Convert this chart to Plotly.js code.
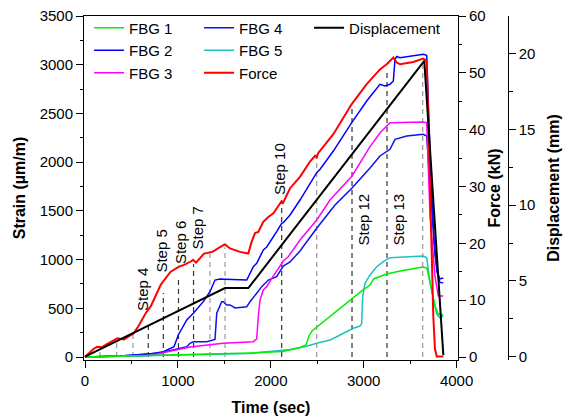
<!DOCTYPE html>
<html>
<head>
<meta charset="utf-8">
<script src="https://cdn.plot.ly/plotly-3.0.1.min.js"></script>
<style>html,body{margin:0;padding:0;background:#fff;}#chart{width:565px;height:416px;}</style>
</head>
<body>
<div id="chart"></div>
<script>
// ---- data (time in s, strain in µm/m, force in kN, displacement in mm) ----
const fbg1Time = [0, 700, 1238, 1776, 2131, 2314, 2379, 2411, 2443, 2497, 2852, 2992, 3068, 3105, 3247, 3391, 3638, 3681, 3714, 3767, 3803, 3857];
const fbg1 = [0, 15, 31, 41, 56, 98, 123, 216, 267, 308, 585, 688, 739, 801, 852, 883, 924, 913, 760, 523, 441, 431];

const fbg2Time = [0, 377, 700, 843, 958, 1004, 1095, 1166, 1273, 1345, 1399, 1453, 1507, 1741, 1812, 1848, 1919, 1956, 2063, 2117, 2137, 2207, 2314, 2422, 2494, 2530, 2673, 2871, 3032, 3175, 3229, 3283, 3319, 3337, 3355, 3391, 3534, 3641, 3678, 3695, 3724, 3757, 3789, 3821, 3857];
const fbg2 = [0, 10, 31, 54, 106, 226, 380, 449, 568, 670, 790, 801, 798, 790, 927, 962, 1098, 1129, 1286, 1372, 1381, 1458, 1611, 1786, 1892, 1927, 2114, 2405, 2628, 2799, 2782, 2799, 2833, 3056, 3084, 3072, 3089, 3107, 3097, 2638, 1817, 1201, 872, 801, 811];

const fbg3Time = [0, 700, 1130, 1489, 1812, 1848, 1865, 1884, 1919, 1956, 2010, 2117, 2134, 2188, 2314, 2494, 2637, 2874, 3068, 3175, 3247, 3283, 3641, 3678, 3714, 3767, 3803, 3857];
const fbg3 = [0, 15, 103, 141, 157, 185, 414, 585, 688, 722, 808, 962, 985, 1029, 1201, 1406, 1611, 1858, 2159, 2299, 2371, 2405, 2412, 2405, 1447, 831, 626, 626];

const fbg4Time = [0, 377, 807, 1023, 1095, 1130, 1166, 1310, 1399, 1418, 1453, 1471, 1489, 1525, 1561, 1615, 1741, 1776, 1848, 1902, 1973, 2063, 2134, 2207, 2314, 2494, 2691, 2874, 3068, 3175, 3283, 3337, 3463, 3641, 3678, 3703, 3735, 3767, 3800, 3821, 3857];
const fbg4 = [0, 10, 41, 89, 106, 141, 157, 157, 180, 449, 534, 568, 568, 534, 534, 503, 516, 568, 654, 722, 790, 824, 934, 975, 1088, 1321, 1560, 1735, 1940, 2063, 2132, 2234, 2268, 2286, 2268, 1919, 1406, 1047, 831, 765, 763];

const fbg5Time = [0, 1776, 2207, 2368, 2494, 2637, 2709, 2817, 2888, 2960, 2978, 2989, 3014, 3068, 3140, 3211, 3283, 3641, 3678, 3714, 3767, 3786, 3821, 3857];
const fbg5 = [0, 36, 77, 106, 141, 174, 208, 260, 295, 318, 346, 619, 756, 842, 927, 978, 1019, 1037, 1019, 763, 523, 438, 403, 421];

const forceTime = [0, 97, 132, 183, 226, 312, 348, 420, 492, 527, 581, 653, 707, 761, 815, 850, 922, 1012, 1066, 1138, 1163, 1195, 1227, 1281, 1370, 1432, 1489, 1507, 1561, 1668, 1758, 1794, 1830, 1865, 1919, 1970, 2027, 2099, 2115, 2131, 2153, 2207, 2314, 2422, 2476, 2494, 2511, 2673, 2871, 3032, 3175, 3247, 3319, 3355, 3391, 3534, 3641, 3678, 3695, 3714, 3749, 3767, 3786, 3857];
const force = [0, 1.5, 1.8, 1.7, 2.2, 3.0, 3.3, 3.1, 3.9, 4.2, 5.6, 7.7, 8.9, 10.9, 12.7, 13.5, 15.0, 15.9, 16.2, 16.8, 17.1, 16.6, 17.2, 18.2, 18.5, 19.2, 19.7, 19.8, 19.1, 18.5, 18.2, 20.3, 21.8, 22.0, 23.8, 24.6, 25.3, 27.0, 27.4, 27.1, 27.8, 29.7, 31.7, 34.4, 35.4, 35.1, 35.9, 39.2, 44.5, 48.0, 50.6, 51.5, 52.7, 51.8, 51.5, 51.9, 52.5, 52.1, 42.4, 30.7, 7.2, 1.4, 0.1, 0.1];

const dispTime = [0, 1507, 1758, 3652, 3857];
const displacement = [0, 4.53, 4.53, 19.53, 0.1];

const stepNumbers = [1, 2, 3, 4, 5, 6, 7, 8, 9, 10, 11, 12, 13, 14];
const stepTimes = [161, 341, 516, 681, 843, 1006, 1168, 1345, 1507, 2117, 2494, 2874, 3251, 3635];
const stepTops = [72, 144, 246, 362, 657, 824, 955, 1064, 1132, 1611, 2097, 2566, 2915, 2997];
const labeledSteps = [4, 5, 6, 7, 10, 12, 13];

// ---- styling ----
const FONT = 'Liberation Sans, Arial, sans-serif';
const tickFont = {family: FONT, size: 15, color: '#000'};
const titleFont = {family: FONT, size: 16, color: '#000', weight: 'bold'};

function stepTrace(labeled) {
  const xs = [], ys = [];
  stepNumbers.forEach((n, i) => {
    if (labeledSteps.includes(n) === labeled) {
      xs.push(stepTimes[i], stepTimes[i], null);
      ys.push(0, stepTops[i], null);
    }
  });
  return {x: xs, y: ys, type: 'scatter', mode: 'lines', showlegend: false, hoverinfo: 'skip',
          line: {color: labeled ? '#333333' : '#999999', width: 1.2, dash: '5px,4px'}};
}

const traces = [
  stepTrace(false),
  stepTrace(true),
  {x: fbg2Time, y: fbg2, name: 'FBG 2', type: 'scatter', mode: 'lines', line: {color: '#0000ff', width: 1.5}, legend: 'legend', legendrank: 2},
  {x: fbg4Time, y: fbg4, name: 'FBG 4', type: 'scatter', mode: 'lines', line: {color: '#1010f0', width: 1.5}, legend: 'legend2', legendrank: 4},
  {x: fbg3Time, y: fbg3, name: 'FBG 3', type: 'scatter', mode: 'lines', line: {color: '#ff00ff', width: 1.5}, legend: 'legend', legendrank: 3},
  {x: fbg5Time, y: fbg5, name: 'FBG 5', type: 'scatter', mode: 'lines', line: {color: '#20c0c0', width: 1.5}, legend: 'legend2', legendrank: 5},
  {x: fbg1Time, y: fbg1, name: 'FBG 1', type: 'scatter', mode: 'lines', line: {color: '#00ee00', width: 1.5}, legend: 'legend', legendrank: 1},
  {x: forceTime, y: force, name: 'Force', type: 'scatter', mode: 'lines', yaxis: 'y2', line: {color: '#ff0000', width: 2}, legend: 'legend2', legendrank: 6},
  {x: dispTime, y: displacement, name: 'Displacement', type: 'scatter', mode: 'lines', yaxis: 'y3', line: {color: '#000000', width: 2}, legend: 'legend3', legendrank: 7}
];

const labelPos = {4: [624, 698], 5: [813, 1088], 6: [1023, 1170], 7: [1216, 1329], 10: [2099, 1930], 12: [2987, 1406], 13: [3364, 1406]};
const annotations = labeledSteps.map(n => ({
  x: labelPos[n][0], y: labelPos[n][1], xref: 'x', yref: 'y', text: 'Step ' + n,
  textangle: -90, showarrow: false, font: {family: FONT, size: 15, color: '#000'}
}));

const legendBase = {xanchor: 'left', yanchor: 'top', y: 1.013, bgcolor: 'rgba(0,0,0,0)', borderwidth: 0,
  font: {family: FONT, size: 15, color: '#000'}, tracegroupgap: 0};

const axisCommon = {showgrid: false, zeroline: false, showline: true, linecolor: '#000', linewidth: 1,
  ticks: 'outside', ticklen: 7, tickwidth: 1, tickcolor: '#000', tickfont: tickFont, automargin: false};

const layout = {
  width: 565, height: 416,
  margin: {l: 84, r: 20, t: 16, b: 56},
  paper_bgcolor: '#fff', plot_bgcolor: '#fff',
  showlegend: true,
  xaxis: Object.assign({}, axisCommon, {
    domain: [0, 0.8113], range: [-11, 4015], dtick: 1000, tick0: 0, mirror: true,
    minor: {ticks: 'outside', ticklen: 3, dtick: 500, tickcolor: '#000'},
    title: {text: 'Time (sec)', font: titleFont, standoff: 15}
  }),
  yaxis: Object.assign({}, axisCommon, {
    range: [-30.8, 3500], dtick: 500, tick0: 0,
    minor: {ticks: 'outside', ticklen: 3, dtick: 250, tickcolor: '#000'},
    title: {text: 'Strain (µm/m)', font: titleFont, standoff: 10}
  }),
  yaxis2: Object.assign({}, axisCommon, {
    overlaying: 'y', side: 'right', anchor: 'x', range: [-0.528, 60], dtick: 10, tick0: 0,
    minor: {ticks: 'outside', ticklen: 3, dtick: 5, tickcolor: '#000'},
    title: {text: 'Force (kN)', font: titleFont, standoff: 2}
  }),
  yaxis3: Object.assign({}, axisCommon, {
    overlaying: 'y', side: 'right', anchor: 'free', position: 0.919, range: [-0.218, 22.49], dtick: 5, tick0: 0,
    minor: {ticks: 'outside', ticklen: 4, dtick: 2.5, tickcolor: '#000'},
    title: {text: 'Displacement (mm)', font: titleFont, standoff: 13}
  }),
  legend: Object.assign({}, legendBase, {x: 0.011}),
  legend2: Object.assign({}, legendBase, {x: 0.2496}),
  legend3: Object.assign({}, legendBase, {x: 0.4882}),
  annotations: annotations
};

Plotly.newPlot('chart', traces, layout, {staticPlot: true, displayModeBar: false});
</script>
</body>
</html>
